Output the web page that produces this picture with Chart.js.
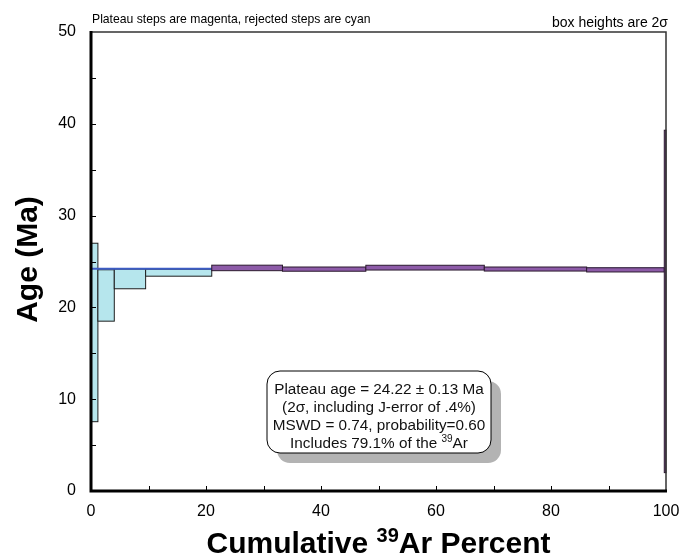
<!DOCTYPE html>
<html>
<head>
<meta charset="utf-8">
<script src="https://cdn.jsdelivr.net/npm/chart.js@4.4.0/dist/chart.umd.min.js"></script>
<style>
  html, body { margin: 0; padding: 0; background: #fff; }
  canvas { display: block; }
</style>
</head>
<body>
<canvas id="spectrum" width="679" height="560"></canvas>
<script>
const FONT = '"Liberation Sans", Arial, sans-serif';

// step boundaries, cumulative 39Ar percent
const cumPercent = [0, 1.2, 4.05, 9.5, 21.0, 33.3, 47.8, 68.4, 86.2, 99.7, 100];
// apparent age of each step (Ma) and its 2 sigma half height
const stepAges = [17.27, 21.3, 23.1, 23.78, 24.3, 24.17, 24.33, 24.18, 24.09, 20.65];
const stepErrors = [9.72, 2.8, 1.07, 0.38, 0.3, 0.23, 0.26, 0.22, 0.23, 18.65];
const inPlateau = [false, false, false, false, true, true, true, true, true, true];
const plateauAge = 24.22;

const xTickStep = 20;
const yTickStep = 10;

const infoLines = [
    [['Plateau age = 24.22 \u00b1 0.13 Ma', false]],
    [['(2\u03c3, including J-error of .4%)', false]],
    [['MSWD = 0.74, probability=0.60', false]],
    [['Includes 79.1% of the ', false], ['39', true], ['Ar', false]]
];

function drawSteps(chart, plateau) {
    const { ctx, scales: { x, y } } = chart;
    ctx.save();
    for (let i = 0; i < stepAges.length; i++) {
        if (inPlateau[i] !== plateau) continue;
        const x0 = x.getPixelForValue(cumPercent[i]);
        const x1 = x.getPixelForValue(cumPercent[i + 1]);
        const yTop = y.getPixelForValue(stepAges[i] + stepErrors[i]);
        const yBot = y.getPixelForValue(stepAges[i] - stepErrors[i]);
        ctx.fillStyle = plateau ? '#8d5ba8' : '#b6e6ed';
        ctx.fillRect(x0, yTop, x1 - x0, yBot - yTop);
        ctx.strokeStyle = plateau ? '#2b1a2e' : '#1e1e1e';
        ctx.lineWidth = 1;
        ctx.strokeRect(x0, yTop, x1 - x0, yBot - yTop);
    }
    ctx.restore();
}

// text made of [string, isSuperscript] parts, centred on cx
function drawRich(ctx, parts, cx, baseline, size, bold) {
    const w = bold ? 'bold ' : '';
    const supSize = Math.round(size * 0.65);
    let total = 0;
    parts.forEach(([t, sup]) => {
        ctx.font = w + (sup ? supSize : size) + 'px ' + FONT;
        total += ctx.measureText(t).width;
    });
    let xPos = cx - total / 2;
    ctx.textAlign = 'left';
    ctx.textBaseline = 'alphabetic';
    parts.forEach(([t, sup]) => {
        ctx.font = w + (sup ? supSize : size) + 'px ' + FONT;
        ctx.fillText(t, xPos, sup ? baseline - size * 0.38 : baseline);
        xPos += ctx.measureText(t).width;
    });
}

function roundRect(ctx, x, y, w, h, r) {
    ctx.beginPath();
    ctx.moveTo(x + r, y);
    ctx.arcTo(x + w, y, x + w, y + h, r);
    ctx.arcTo(x + w, y + h, x, y + h, r);
    ctx.arcTo(x, y + h, x, y, r);
    ctx.arcTo(x, y, x + w, y, r);
    ctx.closePath();
}

const stepsPlugin = {
    id: 'steps',
    beforeDatasetsDraw(chart) { drawSteps(chart, false); },
    afterDatasetsDraw(chart) { drawSteps(chart, true); }
};

const framePlugin = {
    id: 'frame',
    afterDraw(chart) {
        const { ctx, chartArea: a, scales: { x, y } } = chart;
        ctx.save();

        // top and right border
        ctx.strokeStyle = '#333';
        ctx.lineWidth = 1.5;
        ctx.beginPath();
        ctx.moveTo(a.left, a.top);
        ctx.lineTo(a.right, a.top);
        ctx.lineTo(a.right, a.bottom);
        ctx.stroke();

        // inward tick marks
        ctx.strokeStyle = '#000';
        ctx.lineWidth = 1;
        ctx.beginPath();
        for (let v = 5; v < 50; v += 5) {
            const py = Math.round(y.getPixelForValue(v)) + 0.5;
            ctx.moveTo(a.left, py);
            ctx.lineTo(a.left + 5, py);
        }
        for (let v = 10; v < 100; v += 10) {
            const px = Math.round(x.getPixelForValue(v)) + 0.5;
            ctx.moveTo(px, a.bottom);
            ctx.lineTo(px, a.bottom - 5);
        }
        ctx.stroke();

        // heavy left and bottom axes
        ctx.lineWidth = 3;
        ctx.beginPath();
        ctx.moveTo(a.left, a.top - 1);
        ctx.lineTo(a.left, a.bottom);
        ctx.lineTo(a.right + 1, a.bottom);
        ctx.stroke();

        // axis titles
        ctx.fillStyle = '#000';
        drawRich(ctx, [['Cumulative ', false], ['39', true], ['Ar Percent', false]],
            (a.left + a.right) / 2, 553, 30, true);
        ctx.save();
        ctx.translate(37, (a.top + a.bottom) / 2 - 2);
        ctx.rotate(-Math.PI / 2);
        ctx.font = 'bold 30px ' + FONT;
        ctx.textAlign = 'center';
        ctx.textBaseline = 'alphabetic';
        ctx.fillText('Age (Ma)', 0, 0);
        ctx.restore();

        // notes above the plot
        ctx.textBaseline = 'alphabetic';
        ctx.font = '12.2px ' + FONT;
        ctx.textAlign = 'left';
        ctx.fillText('Plateau steps are magenta, rejected steps are cyan', 92, 23);
        ctx.font = '14px ' + FONT;
        ctx.textAlign = 'right';
        ctx.fillText('box heights are 2\u03c3', 668, 27);

        // plateau info box with shadow
        const bx = 267, by = 371, bw = 224, bh = 82;
        ctx.fillStyle = '#b3b3b3';
        roundRect(ctx, bx + 10, by + 10, bw, bh, 13);
        ctx.fill();
        ctx.fillStyle = '#fff';
        roundRect(ctx, bx, by, bw, bh, 13);
        ctx.fill();
        ctx.strokeStyle = '#000';
        ctx.lineWidth = 1;
        ctx.stroke();

        ctx.fillStyle = '#111';
        infoLines.forEach((parts, i) => {
            drawRich(ctx, parts, bx + bw / 2, 394 + i * 18, 15.3, false);
        });

        ctx.restore();
    }
};

new Chart(document.getElementById('spectrum').getContext('2d'), {
    type: 'scatter',
    data: {
        datasets: [{
            data: [{ x: 0, y: plateauAge }, { x: 100, y: plateauAge }],
            showLine: true,
            borderColor: '#3c5cc4',
            borderWidth: 2,
            pointRadius: 0
        }]
    },
    options: {
        responsive: false,
        animation: false,
        layout: { padding: { top: 32, right: 13, left: 0, bottom: 0 } },
        plugins: { legend: { display: false }, tooltip: { enabled: false } },
        scales: {
            x: {
                type: 'linear',
                min: 0,
                max: 100,
                grid: { display: false, drawTicks: false },
                border: { display: false },
                ticks: {
                    stepSize: xTickStep,
                    maxRotation: 0,
                    color: '#000',
                    padding: 11,
                    font: { family: FONT, size: 16 }
                },
                afterFit(s) {
                    s.height = 69;
                    s.paddingLeft = s.paddingRight = 0;
                }
            },
            y: {
                type: 'linear',
                min: 0,
                max: 50,
                grid: { display: false, drawTicks: false },
                border: { display: false },
                ticks: {
                    stepSize: yTickStep,
                    color: '#000',
                    padding: 15,
                    font: { family: FONT, size: 16 }
                },
                afterFit(s) {
                    s.width = 91;
                    s.paddingTop = s.paddingBottom = 0;
                }
            }
        }
    },
    plugins: [stepsPlugin, framePlugin]
});
</script>
</body>
</html>
